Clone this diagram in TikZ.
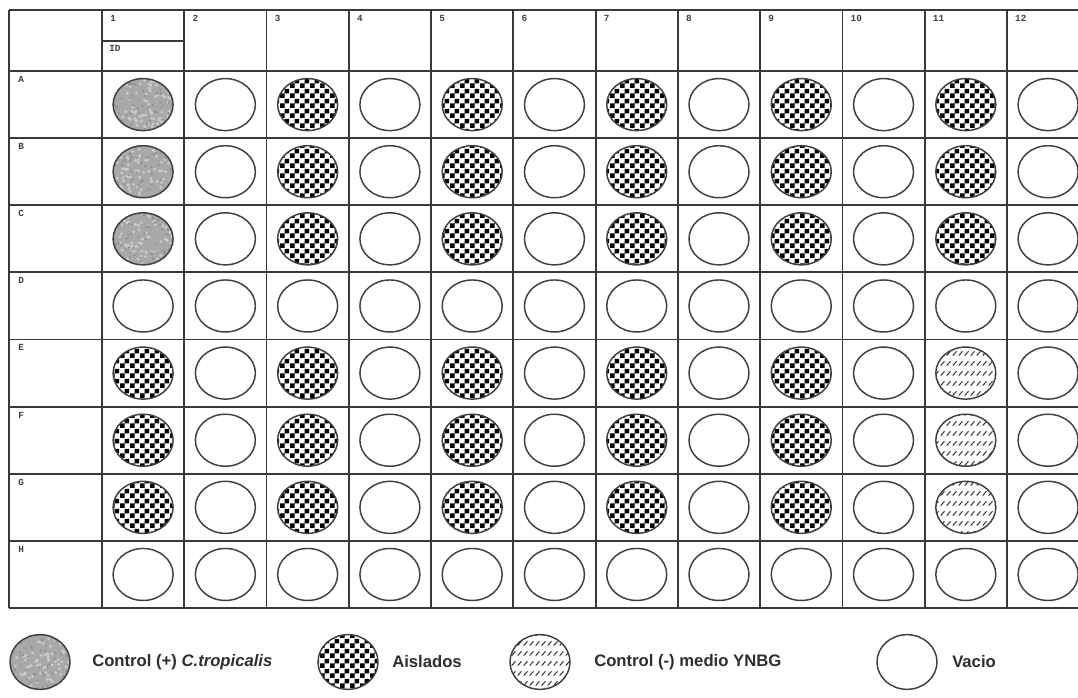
\documentclass[tikz,border=0pt]{standalone}
\usepackage{fontspec}
\setmainfont{Liberation Sans}
\newfontfamily\monof{Liberation Mono}
\usetikzlibrary{patterns,shapes.geometric}

\pgfdeclarepatternformonly{bigchecker}{\pgfqpoint{0pt}{0pt}}{\pgfqpoint{7.5pt}{7.5pt}}{\pgfqpoint{7.5pt}{7.5pt}}{%
  \pgfpathrectangle{\pgfqpoint{0pt}{0pt}}{\pgfqpoint{3.75pt}{3.75pt}}%
  \pgfpathrectangle{\pgfqpoint{3.75pt}{3.75pt}}{\pgfqpoint{3.75pt}{3.75pt}}%
  \pgfusepath{fill}}

\pgfdeclarepatternformonly{slashrows}{\pgfqpoint{0pt}{0pt}}{\pgfqpoint{4.8pt}{7.5pt}}{\pgfqpoint{4.8pt}{7.5pt}}{%
  \pgfsetlinewidth{0.8pt}%
  \pgfpathmoveto{\pgfqpoint{0.6pt}{2pt}}%
  \pgfpathlineto{\pgfqpoint{3.6pt}{5.4pt}}%
  \pgfusepath{stroke}}

\definecolor{lineC}{HTML}{3A3A3A}
\definecolor{txtC}{HTML}{2E2E2E}

\tikzset{
  gridline/.style={draw=lineC, line width=1.4pt, line cap=square},
  well/.style={ellipse, draw=black!75, line width=1.1pt, minimum width=45pt, minimum height=39pt, inner sep=0pt},
  wE/.style={well},
  wC/.style={well, pattern=bigchecker, pattern color=black},
  wH/.style={well, pattern=slashrows, pattern color=black!80},
  wG/.style={well, path picture={
      \fill[gray!68] (path picture bounding box.south west) rectangle (path picture bounding box.north east);
      \foreach \n in {1,...,80}{\fill[gray!40, shift={(path picture bounding box.center)}] (rand*30,rand*27) circle[radius=1.6];}
      \foreach \n in {1,...,60}{\fill[gray!90, shift={(path picture bounding box.center)}] (rand*30,rand*27) circle[radius=1.1];}
  }},
  lbl/.style={font=\monof\bfseries\fontsize{7}{8}\selectfont, text=black!75, inner sep=0pt, anchor=north west},
  legtxt/.style={font=\bfseries\fontsize{12.5}{14}\selectfont, text=txtC, anchor=west, inner sep=0pt}
}

\begin{document}
\begin{tikzpicture}[x=0.75pt,y=-0.75pt]
\pgfmathsetseed{11}
\useasboundingbox (0,0) rectangle (1078,698);
\fill[white] (0,0) rectangle (1078,698);

% grid
\draw[gridline] (9,10) -- (9,608);
\foreach \k in {0,...,11} {\draw[gridline] ({102+82.27*\k},10) -- ({102+82.27*\k},608);}
\draw[gridline] (9,10) -- (1078,10);
\foreach \k in {0,...,8} {\draw[gridline] (9,{71+67.125*\k}) -- (1078,{71+67.125*\k});}
\draw[gridline] (102,41) -- (183,41);

% column labels
\foreach \k in {1,...,12} {\node[lbl] (col\k) at ({102+82.27*(\k-1)+8},15) {\k};}
\node[lbl] (idlbl) at (109,45) {ID};
% row labels
\foreach \r [count=\i from 0] in {A,B,C,D,E,F,G,H} {\node[lbl] (row\r) at (18,{71+67.125*\i+5}) {\r};}

% wells
\foreach \rowlist [count=\i from 0] in {
  {G,E,C,E,C,E,C,E,C,E,C,E},
  {G,E,C,E,C,E,C,E,C,E,C,E},
  {G,E,C,E,C,E,C,E,C,E,C,E},
  {E,E,E,E,E,E,E,E,E,E,E,E},
  {C,E,C,E,C,E,C,E,C,E,H,E},
  {C,E,C,E,C,E,C,E,C,E,H,E},
  {C,E,C,E,C,E,C,E,C,E,H,E},
  {E,E,E,E,E,E,E,E,E,E,E,E}} {
  \foreach \t [count=\j from 0] in \rowlist {
    \node[w\t] (w-\i-\j) at ({102+82.27*\j+41.1},{71+67.125*\i+33.6}) {};
  }
}

% legend
\node[wG, minimum height=41pt] (lgG) at (40,662) {};
\node[legtxt] (lgGt) at (92,662) {Control (+) \textit{C.tropicalis}};
\node[wC, minimum height=41pt] (lgC) at (348,662) {};
\node[legtxt] (lgCt) at (392,662) {Aislados};
\node[wH, minimum height=41pt] (lgH) at (540,662) {};
\node[legtxt] (lgHt) at (594,662) {Control (-) medio YNBG};
\node[wE, minimum height=41pt] (lgE) at (907,662) {};
\node[legtxt] (lgEt) at (952,662) {Vacio};
\end{tikzpicture}
\end{document}
